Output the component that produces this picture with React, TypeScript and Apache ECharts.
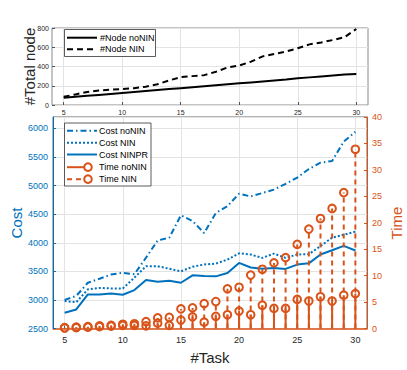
import React, { useEffect, useRef } from "react";
import * as echarts from "echarts";

const tasks = [5, 6, 7, 8, 9, 10, 11, 12, 13, 14, 15, 16, 17, 18, 19, 20, 21, 22, 23, 24, 25, 26, 27, 28, 29, 30];
const xTicks = [5, 10, 15, 20, 25, 30];

const nodeNoNIN = [75, 85, 95, 105, 115, 125, 135, 145, 155, 165, 175, 185, 195, 205, 215, 225, 235, 245, 255, 265, 277, 287, 297, 307, 317, 323];
const nodeNIN = [85, 110, 135, 150, 160, 165, 175, 190, 215, 255, 290, 300, 310, 345, 390, 410, 450, 505, 530, 555, 590, 630, 650, 675, 705, 790];

const costNoNIN = [3000, 3070, 3300, 3370, 3445, 3475, 3450, 3740, 4040, 4090, 4480, 4380, 4170, 4520, 4640, 4860, 4810, 4870, 4930, 5030, 5140, 5290, 5400, 5430, 5770, 5940];
const costNIN = [2980, 2960, 3185, 3210, 3200, 3200, 3390, 3590, 3590, 3545, 3500, 3580, 3620, 3635, 3705, 3815, 3795, 3735, 3810, 3735, 3795, 3800, 3940, 4090, 4140, 4195];
const costNINPR = [2775, 2833, 3096, 3096, 3113, 3090, 3172, 3347, 3318, 3336, 3300, 3430, 3420, 3412, 3470, 3647, 3568, 3545, 3560, 3542, 3618, 3640, 3795, 3868, 3945, 3864];

const timeNoNIN = [0.1, 0.15, 0.25, 0.35, 0.45, 0.6, 0.6, 0.5, 1.0, 0.6, 1.6, 2.2, 1.2, 2.3, 2.6, 3.3, 2.6, 4.4, 3.8, 3.8, 5.5, 5.2, 6.0, 5.2, 6.3, 6.6];
const timeNIN = [0.15, 0.25, 0.35, 0.5, 0.6, 0.8, 0.9, 1.3, 2.0, 2.1, 3.7, 3.9, 4.7, 5.1, 7.5, 7.8, 10.1, 11.2, 12.4, 13.4, 15.9, 18.8, 20.8, 22.7, 25.7, 33.9];

const BLUE = "#0072BD";
const ORANGE = "#D95319";
const DARK = "#262626";
const GRIDC = "#e3e3e3";
const FONT = "'Liberation Sans', Arial, Helvetica, sans-serif";

const pairs = (ys: number[]) => tasks.map((t, i) => [t, ys[i]]);
const plain = (v: number) => String(v);

function stemRender(dashed: boolean) {
  return (params: any, api: any) => {
    const x = api.value(0);
    const y = api.value(1);
    const p0 = api.coord([x, 0]);
    const p1 = api.coord([x, y]);
    return {
      type: "group",
      children: [
        {
          type: "line",
          shape: { x1: p0[0], y1: p0[1], x2: p1[0], y2: p1[1] },
          style: { stroke: ORANGE, lineWidth: 2, lineDash: dashed ? [5, 4] : null },
        },
        {
          type: "circle",
          shape: { cx: p1[0], cy: p1[1], r: 3.8 },
          style: { fill: "none", stroke: ORANGE, lineWidth: 2 },
        },
      ],
    };
  };
}

function txt(text: string, x: number, y: number, size: number, color: string, opts: any = {}) {
  return {
    type: "text",
    x,
    y,
    z: 100,
    rotation: opts.rotation || 0,
    style: {
      text,
      fill: color,
      fontSize: size,
      fontFamily: FONT,
      align: opts.align || "left",
      verticalAlign: "middle",
    },
  };
}

function seg(x1: number, x2: number, y: number, color: string, dash: number[] | null) {
  return {
    type: "line",
    z: 100,
    shape: { x1, y1: y, x2, y2: y },
    style: { stroke: color, lineWidth: 2, lineDash: dash },
  };
}

export default function App() {
  const ref = useRef<HTMLDivElement>(null);
  useEffect(() => {
    if (!ref.current) return;
    const chart = echarts.init(ref.current, null, { renderer: "svg" });

    const xCommon = (grid: number, size: number, margin: number, lineColor: string | null) => ({
      type: "value",
      gridIndex: grid,
      min: 4,
      max: 31,
      axisLine: lineColor ? { show: true, onZero: false, lineStyle: { color: lineColor, width: 1.5 } } : { show: false },
      axisTick: { show: true, inside: true, length: 3, customValues: xTicks, lineStyle: { color: "#555" } },
      axisLabel: { customValues: xTicks, fontSize: size, color: DARK, margin, fontFamily: FONT, formatter: plain },
      splitLine: { show: true, lineStyle: { color: GRIDC, width: 1 } },
    });

    const option: any = {
      animation: false,
      backgroundColor: "#ffffff",
      grid: [
        { left: 52, top: 28, width: 316, height: 77, show: true, borderColor: "#8a8a8a", borderWidth: 1, backgroundColor: "transparent", containLabel: false, outerBoundsMode: "none" },
        { left: 53, top: 117, width: 314, height: 211.5, show: true, borderColor: "#666", borderWidth: 1, backgroundColor: "transparent", containLabel: false, outerBoundsMode: "none" },
      ],
      xAxis: [xCommon(0, 7, 4, null), xCommon(1, 9, 7, ORANGE)],
      yAxis: [
        {
          type: "value",
          gridIndex: 0,
          min: 0,
          max: 800,
          interval: 200,
          axisLine: { show: false },
          axisTick: { show: true, inside: true, length: 3, lineStyle: { color: "#555" } },
          axisLabel: { fontSize: 7, color: DARK, margin: 3, fontFamily: FONT, formatter: plain },
          splitLine: { show: true, lineStyle: { color: GRIDC, width: 1 } },
        },
        {
          type: "value",
          gridIndex: 1,
          position: "left",
          min: 2500,
          max: 6200,
          interval: 500,
          axisLine: { show: true, lineStyle: { color: BLUE, width: 1 } },
          axisTick: { show: true, inside: true, length: 3, lineStyle: { color: BLUE } },
          axisLabel: { fontSize: 9, color: BLUE, margin: 5, fontFamily: FONT, showMaxLabel: false, formatter: plain },
          splitLine: { show: true, lineStyle: { color: GRIDC, width: 1 } },
        },
        {
          type: "value",
          gridIndex: 1,
          position: "right",
          min: 0,
          max: 40,
          interval: 5,
          axisLine: { show: true, lineStyle: { color: ORANGE, width: 1 } },
          axisTick: { show: true, inside: true, length: 3, lineStyle: { color: ORANGE } },
          axisLabel: { fontSize: 9, color: ORANGE, margin: 5, fontFamily: FONT, formatter: plain },
          splitLine: { show: false },
        },
      ],
      series: [
        {
          type: "line",
          xAxisIndex: 0,
          yAxisIndex: 0,
          data: pairs(nodeNoNIN),
          showSymbol: false,
          symbol: "none",
          lineStyle: { color: "#000", width: 2 },
        },
        {
          type: "line",
          xAxisIndex: 0,
          yAxisIndex: 0,
          data: pairs(nodeNIN),
          showSymbol: false,
          symbol: "none",
          lineStyle: { color: "#000", width: 2, type: [6, 4] },
        },
        {
          type: "line",
          xAxisIndex: 1,
          yAxisIndex: 1,
          data: pairs(costNoNIN),
          symbol: "none",
          lineStyle: { color: BLUE, width: 2, type: [6, 3, 1.5, 3] },
        },
        {
          type: "line",
          xAxisIndex: 1,
          yAxisIndex: 1,
          data: pairs(costNIN),
          symbol: "none",
          lineStyle: { color: BLUE, width: 2, type: [2, 2] },
        },
        {
          type: "line",
          xAxisIndex: 1,
          yAxisIndex: 1,
          data: pairs(costNINPR),
          symbol: "none",
          lineStyle: { color: BLUE, width: 2 },
        },
        {
          type: "custom",
          xAxisIndex: 1,
          yAxisIndex: 2,
          data: pairs(timeNoNIN),
          encode: { x: 0, y: 1 },
          renderItem: stemRender(false),
          z: 5,
        },
        {
          type: "custom",
          xAxisIndex: 1,
          yAxisIndex: 2,
          data: pairs(timeNIN),
          encode: { x: 0, y: 1 },
          renderItem: stemRender(true),
          z: 6,
        },
      ],
      graphic: [
        txt("#Total node", 29, 66.5, 15, DARK, { align: "center", rotation: Math.PI / 2 }),
        txt("Cost", 16, 223, 15, BLUE, { align: "center", rotation: Math.PI / 2 }),
        txt("Time", 396, 223, 15, ORANGE, { align: "center", rotation: Math.PI / 2 }),
        txt("#Task", 210, 357, 15, DARK, { align: "center" }),
        {
          type: "rect",
          z: 99,
          shape: { x: 64.5, y: 29.5, width: 91, height: 27 },
          style: { fill: "#fff", stroke: "#333", lineWidth: 0.8 },
        },
        seg(67, 97, 37.7, "#000", null),
        seg(67, 97, 49.3, "#000", [6, 4]),
        txt("#Node noNIN", 100, 37.7, 9, "#000"),
        txt("#Node NIN", 100, 49.3, 9, "#000"),
        {
          type: "rect",
          z: 99,
          shape: { x: 64.5, y: 123, width: 86.5, height: 63 },
          style: { fill: "#fff", stroke: "#333", lineWidth: 0.8 },
        },
        seg(67, 97, 130.7, BLUE, [6, 3, 1.5, 3]),
        seg(67, 97, 142.7, BLUE, [2, 2]),
        seg(67, 97, 154.5, BLUE, null),
        seg(67, 88, 167.2, ORANGE, null),
        seg(67, 88, 179.2, ORANGE, [5, 4]),
        {
          type: "circle",
          z: 100,
          shape: { cx: 88, cy: 167.2, r: 3.8 },
          style: { fill: "#fff", stroke: ORANGE, lineWidth: 2 },
        },
        {
          type: "circle",
          z: 100,
          shape: { cx: 88, cy: 179.2, r: 3.8 },
          style: { fill: "#fff", stroke: ORANGE, lineWidth: 2 },
        },
        txt("Cost noNIN", 99, 130.7, 9, "#000"),
        txt("Cost NIN", 99, 142.7, 9, "#000"),
        txt("Cost NINPR", 99, 154.5, 9, "#000"),
        txt("Time noNIN", 99, 167.2, 9, "#000"),
        txt("Time NIN", 99, 179.2, 9, "#000"),
      ],
    };

    chart.setOption(option);
    return () => {
      chart.dispose();
    };
  }, []);

  return (
    <div
      ref={ref}
      style={{ position: "absolute", left: 0, top: 0, width: 407, height: 370, background: "#fff" }}
    />
  );
}
